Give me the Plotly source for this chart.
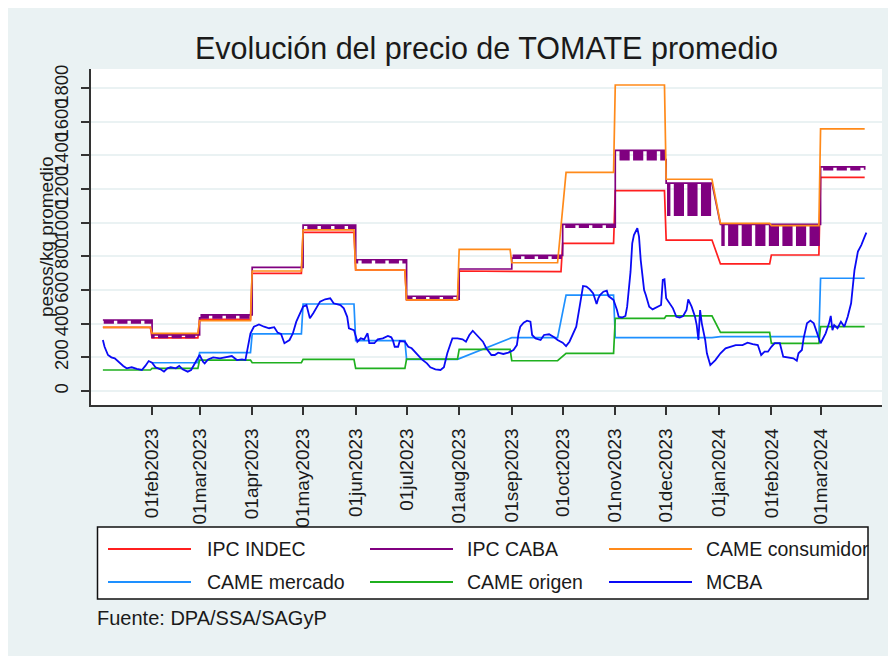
import pandas as pd
import plotly.graph_objects as go

# ---------------- data ----------------
MONTHS = ["2023-01", "2023-02", "2023-03", "2023-04", "2023-05", "2023-06",
          "2023-07", "2023-08", "2023-09", "2023-10", "2023-11", "2023-12",
          "2024-01", "2024-02", "2024-03"]
START, END = "2023-01-03", "2024-03-27"

IPC_INDEC = [378, 316, 426, 699, 943, 719, 541, 713, 709, 877, 1190, 897, 755, 808, 1269]
IPC_CABA_HI = [422, 334, 452, 735, 985, 780, 563, 725, 806, 990, 1430, 1235, 990, 990, 1332]
IPC_CABA_LO = [405, 318, 435, 735, 967, 763, 546, 725, 789, 973, 1375, 1045, 867, 867, 1315]
CABA_PATTERN = "HLHLHLHH"
CAME_CONSUMIDOR = [378, 343, 418, 713, 957, 719, 541, 842, 762, 1299, 1818, 1258, 996, 982, 1557]
CAME_MERCADO = [None, 168, 228, 339, 517, 299, 188, None, 317, 570, 317, 317, 323, 323, 670]
CAME_ORIGEN = [125, 135, 184, 168, 188, 135, 190, 248, 180, 224, 432, 447, 349, 283, 382]

GAP_ALL = ["2023-12-29", "2023-12-30", "2023-12-31", "2024-01-01"]
GAP_CAME = ["2023-09-29", "2023-09-30", "2023-10-01", "2023-10-02"]

MCBA_DATES = [
    "2023-01-03", "2023-01-04", "2023-01-06", "2023-01-08", "2023-01-10", "2023-01-12",
    "2023-01-15", "2023-01-17", "2023-01-20", "2023-01-23", "2023-01-26", "2023-01-28",
    "2023-01-30", "2023-02-01", "2023-02-03", "2023-02-06", "2023-02-08", "2023-02-10",
    "2023-02-12", "2023-02-15", "2023-02-17", "2023-02-19", "2023-02-22", "2023-02-24",
    "2023-02-26", "2023-02-27", "2023-03-01", "2023-03-03", "2023-03-04", "2023-03-06",
    "2023-03-09", "2023-03-13", "2023-03-17", "2023-03-20", "2023-03-23", "2023-03-26",
    "2023-03-28", "2023-03-29", "2023-03-31", "2023-04-02", "2023-04-05", "2023-04-08",
    "2023-04-11", "2023-04-14", "2023-04-16", "2023-04-18", "2023-04-20", "2023-04-23",
    "2023-04-24", "2023-04-25", "2023-04-27", "2023-04-29", "2023-05-01", "2023-05-03",
    "2023-05-05", "2023-05-07", "2023-05-09", "2023-05-11", "2023-05-14", "2023-05-17",
    "2023-05-19", "2023-05-23", "2023-05-25", "2023-05-27", "2023-05-28", "2023-05-31",
    "2023-06-02", "2023-06-04", "2023-06-06", "2023-06-08", "2023-06-09", "2023-06-12",
    "2023-06-14", "2023-06-17", "2023-06-20", "2023-06-22", "2023-06-23", "2023-06-24",
    "2023-06-26", "2023-06-27", "2023-06-30", "2023-07-02", "2023-07-04", "2023-07-07",
    "2023-07-10", "2023-07-13", "2023-07-15", "2023-07-18", "2023-07-21", "2023-07-23",
    "2023-07-25", "2023-07-27", "2023-07-28", "2023-07-31", "2023-08-03", "2023-08-05",
    "2023-08-07", "2023-08-09", "2023-08-12", "2023-08-15", "2023-08-17", "2023-08-19",
    "2023-08-20", "2023-08-22", "2023-08-24", "2023-08-27", "2023-08-30", "2023-09-02",
    "2023-09-04", "2023-09-05", "2023-09-06", "2023-09-08", "2023-09-10", "2023-09-12",
    "2023-09-13", "2023-09-15", "2023-09-18", "2023-09-20", "2023-09-23", "2023-09-26",
    "2023-09-28", "2023-10-01", "2023-10-03", "2023-10-05", "2023-10-07", "2023-10-09",
    "2023-10-11", "2023-10-13", "2023-10-15", "2023-10-17", "2023-10-19", "2023-10-21",
    "2023-10-22", "2023-10-23", "2023-10-25", "2023-10-27", "2023-10-28", "2023-10-31",
    "2023-11-02", "2023-11-03", "2023-11-05", "2023-11-07", "2023-11-08", "2023-11-10",
    "2023-11-11", "2023-11-12", "2023-11-14", "2023-11-15", "2023-11-16", "2023-11-18",
    "2023-11-19", "2023-11-21", "2023-11-23", "2023-11-26", "2023-11-28", "2023-11-29",
    "2023-11-30", "2023-12-01", "2023-12-03", "2023-12-05", "2023-12-07", "2023-12-09",
    "2023-12-11", "2023-12-13", "2023-12-14", "2023-12-16", "2023-12-18", "2023-12-19",
    "2023-12-20", "2023-12-21", "2023-12-22", "2023-12-24", "2023-12-25", "2023-12-27",
    "2023-12-30", "2024-01-02", "2024-01-05", "2024-01-08", "2024-01-11", "2024-01-15",
    "2024-01-18", "2024-01-21", "2024-01-24", "2024-01-26", "2024-01-28", "2024-01-30",
    "2024-02-01", "2024-02-03", "2024-02-06", "2024-02-08", "2024-02-11", "2024-02-14",
    "2024-02-16", "2024-02-17", "2024-02-19", "2024-02-20", "2024-02-22", "2024-02-24",
    "2024-02-26", "2024-02-28", "2024-03-01", "2024-03-02", "2024-03-04", "2024-03-06",
    "2024-03-07", "2024-03-08", "2024-03-09", "2024-03-11", "2024-03-13", "2024-03-15",
    "2024-03-17", "2024-03-19", "2024-03-20", "2024-03-21", "2024-03-23", "2024-03-25",
    "2024-03-27", "2024-03-28"]
MCBA = [
    303, 263, 214, 200, 194, 174, 149, 135, 141, 132, 125, 149,
    178, 168, 141, 129, 115, 135, 141, 135, 149, 129, 115, 125,
    160, 184, 214, 174, 164, 188, 200, 194, 200, 208, 184, 188,
    184, 244, 343, 382, 396, 382, 373, 379, 347, 339, 284, 303,
    323, 343, 412, 462, 501, 511, 432, 462, 501, 531, 545, 551,
    521, 511, 491, 441, 373, 362, 293, 313, 307, 343, 284, 284,
    307, 313, 327, 319, 299, 263, 263, 297, 293, 263, 254, 220,
    188, 164, 141, 129, 125, 141, 224, 284, 313, 313, 307, 293,
    333, 358, 323, 293, 254, 224, 214, 214, 228, 220, 228, 244,
    273, 343, 382, 406, 418, 412, 333, 313, 303, 333, 337, 319,
    303, 287, 267, 293, 333, 382, 501, 624, 620, 604, 580, 517,
    551, 570, 590, 596, 564, 541, 481, 441, 437, 446, 501, 709,
    877, 927, 967, 917, 778, 600, 570, 501, 485, 501, 511, 660,
    664, 551, 521, 491, 441, 437, 446, 481, 545, 501, 441, 392,
    303, 481, 402, 303, 224, 154, 184, 224, 254, 263, 273, 273,
    287, 279, 273, 214, 234, 234, 263, 284, 284, 204, 200, 194,
    180, 224, 244, 313, 402, 418, 402, 343, 284, 303, 343, 402,
    446, 362, 392, 373, 412, 382, 441, 521, 620, 719, 828, 867,
    917, 941]

Y_TICKS = [0, 200, 400, 600, 800, 1000, 1200, 1400, 1600, 1800]
TICK_DATES = ["2023-02-01", "2023-03-01", "2023-04-01", "2023-05-01", "2023-06-01",
              "2023-07-01", "2023-08-01", "2023-09-01", "2023-10-01", "2023-11-01",
              "2023-12-01", "2024-01-01", "2024-02-01", "2024-03-01"]
TICK_LABELS = ["01feb2023", "01mar2023", "01apr2023", "01may2023", "01jun2023",
               "01jul2023", "01aug2023", "01sep2023", "01oct2023", "01nov2023",
               "01dec2023", "01jan2024", "01feb2024", "01mar2024"]

SERIES_NAMES = ["IPC INDEC", "IPC CABA", "CAME consumidor", "CAME mercado", "CAME origen", "MCBA"]
COLORS = ["#FF1F1F", "#800080", "#FF8A1A", "#1E90FF", "#1FB01F", "#0A0AF5"]

# ---------------- expand monthly series to daily ----------------
days = pd.date_range(START, END, freq="D")
mpos = {m: i for i, m in enumerate(MONTHS)}


def to_daily(vals, gaps=()):
    g = set(pd.to_datetime(list(gaps)))
    out = []
    for d in days:
        v = vals[mpos[d.strftime("%Y-%m")]]
        out.append(None if d in g else v)
    return out


def caba_path():
    """Daily IPC CABA values drawn as a step path (horizontal, then vertical)."""
    g = set(pd.to_datetime(GAP_ALL))
    xs, ys = [], []
    prev_k, prev_v = None, None
    for k, d in enumerate(days):
        if d in g:
            continue
        i = mpos[d.strftime("%Y-%m")]
        v = IPC_CABA_HI[i] if CABA_PATTERN[k % len(CABA_PATTERN)] == "H" else IPC_CABA_LO[i]
        if prev_k is not None and prev_k == k - 1:
            xs.append(d)
            ys.append(prev_v)
        xs.append(d)
        ys.append(v)
        prev_k, prev_v = k, v
    return xs, ys


fig = go.Figure()
daily_sets = {
    0: to_daily(IPC_INDEC, GAP_ALL),
    2: to_daily(CAME_CONSUMIDOR, GAP_ALL + GAP_CAME),
    3: to_daily(CAME_MERCADO, GAP_ALL + GAP_CAME),
    4: to_daily(CAME_ORIGEN, GAP_ALL + GAP_CAME),
}
for k in range(5):
    if k == 1:
        cx, cy = caba_path()
        fig.add_trace(go.Scatter(x=cx, y=cy, mode="lines", name=SERIES_NAMES[1],
                                 line=dict(color=COLORS[1], width=1.7), showlegend=False))
    else:
        fig.add_trace(go.Scatter(x=days, y=daily_sets[k], mode="lines", name=SERIES_NAMES[k],
                                 connectgaps=True, line=dict(color=COLORS[k], width=1.7),
                                 showlegend=False))
fig.add_trace(go.Scatter(x=pd.to_datetime(MCBA_DATES), y=MCBA, mode="lines", name=SERIES_NAMES[5],
                         line=dict(color=COLORS[5], width=1.8), showlegend=False))

# ---------------- layout ----------------
W, H = 896, 656
OFF = 8                           # page body margin
L, R, T, B = 91, 882, 69, 405     # plot area in screen pixels
FONT = "Liberation Sans, Arial, sans-serif"
AX = "#333333"
TXT = "#1a1a1a"


def px(xs):
    return (xs - L) / (R - L)


def py(ys):
    return (B - ys) / (B - T)


shapes = []
annotations = []
# legend box
shapes.append(dict(type="rect", xref="paper", yref="paper", x0=px(97.5), x1=px(868), y0=py(599), y1=py(527),
                   fillcolor="white", line=dict(color="#111111", width=1.5)))
rows = [549, 582]
cols = [(108, 191, 205), (370, 453, 465), (609, 692, 704)]
for k, (name, col) in enumerate(zip(SERIES_NAMES, COLORS)):
    r, c = divmod(k, 3)
    x0, x1, xt = cols[c]
    yy = rows[r]
    shapes.append(dict(type="line", xref="paper", yref="paper", x0=px(x0), x1=px(x1), y0=py(yy), y1=py(yy),
                       line=dict(color=col, width=2)))
    annotations.append(dict(text=name, xref="paper", yref="paper", x=px(xt), y=py(yy), xanchor="left",
                            yanchor="middle", showarrow=False, font=dict(family=FONT, size=19.5, color=TXT)))

annotations.append(dict(text="Fuente: DPA/SSA/SAGyP", xref="paper", yref="paper", x=px(95), y=py(618),
                        xanchor="left", yanchor="middle", showarrow=False,
                        font=dict(family=FONT, size=20, color=TXT)))
annotations.append(dict(text="pesos/kg promedio", xref="paper", yref="paper", x=px(46), y=0.5,
                        xanchor="center", yanchor="middle", textangle=-90, showarrow=False,
                        font=dict(family=FONT, size=19, color=TXT)))

fig.update_layout(
    width=W, height=H,
    margin=dict(l=L - OFF, r=W - (R - OFF), t=T - OFF, b=H - (B - OFF), autoexpand=False),
    paper_bgcolor="#EAF2F3",
    plot_bgcolor="white",
    font=dict(family=FONT, color=TXT),
    title=dict(text="Evolución del precio de TOMATE promedio", x=0.5, xref="paper", xanchor="center",
               y=1 - (48 - OFF) / H, yref="container", yanchor="middle",
               font=dict(family=FONT, size=30.5, color=TXT)),
    shapes=shapes,
    annotations=annotations,
    showlegend=False,
)
fig.update_xaxes(type="date", range=["2022-12-27", "2024-04-06 05:00"],
                 tickvals=pd.to_datetime(TICK_DATES), ticktext=TICK_LABELS, tickangle=-90,
                 tickfont=dict(family=FONT, size=19, color=TXT),
                 showgrid=False, zeroline=False, showline=True, linecolor=AX, linewidth=1.5,
                 ticks="outside", ticklen=8, tickwidth=1.5, tickcolor=AX, ticklabelstandoff=6)
fig.update_yaxes(range=[-83, 1913], tickvals=Y_TICKS, ticktext=[str(v) for v in Y_TICKS], tickangle=-90,
                 tickfont=dict(family=FONT, size=18.5, color=TXT),
                 showgrid=True, gridcolor="#EAF2F3", gridwidth=1.5, zeroline=False,
                 showline=True, linecolor=AX, linewidth=1.5,
                 ticks="outside", ticklen=8, tickwidth=1.5, tickcolor=AX, ticklabelstandoff=6)

fig.write_html("out.html")
